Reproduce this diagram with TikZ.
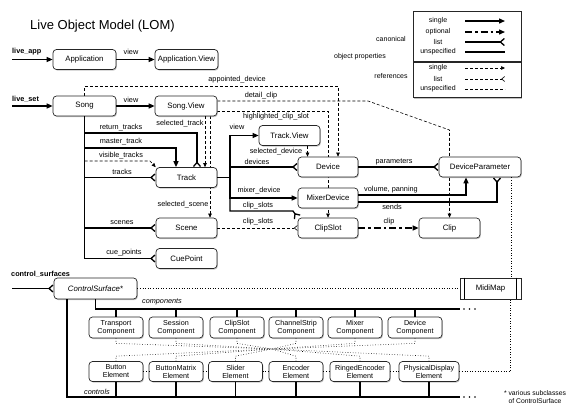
\documentclass[tikz,border=0pt]{standalone}
\usepackage{fontspec}
\setmainfont{Liberation Sans}
\usetikzlibrary{arrows.meta,positioning,calc,shadows,backgrounds}

\begin{document}
\begin{tikzpicture}[
  x=1pt, y=-1pt,
  font=\fontsize{7.3}{8}\selectfont,
  obj/.style={draw=black!85, line width=0.7pt, rounded corners=3.5pt, fill=white,
    minimum width=61pt, minimum height=20pt, inner sep=1pt,
    font=\fontsize{7.8}{8.5}\selectfont,
    drop shadow={shadow xshift=0.9pt, shadow yshift=-1.1pt, opacity=0.45}},
  part/.style={obj, minimum width=54pt, minimum height=21pt, align=center,
    font=\fontsize{7.2}{8}\selectfont},
  mapbox/.style={obj, rounded corners=0pt},
  legbox/.style={draw=black!85, line width=0.8pt, fill=white, minimum width=108pt,
    drop shadow={shadow xshift=0.9pt, shadow yshift=-1.2pt, opacity=0.5}},
  lbl/.style={inner sep=0pt},
  leg/.style={inner sep=0pt, font=\fontsize{7}{8}\selectfont},
  rootlbl/.style={inner sep=0pt, anchor=west, font=\fontsize{7.3}{8}\selectfont\bfseries},
  canon/.style={line width=1.3pt},
  single/.style={canon, -{Triangle[length=6pt,width=5pt]}},
  many/.style={canon, -{Straight Barb[reversed,length=4pt,width=7pt]}},
  optional/.style={single, dash pattern=on 7pt off 3pt on 2.5pt off 3pt},
  refline/.style={line width=0.6pt, dash pattern=on 3pt off 2pt},
  refone/.style={refline, -{Triangle[length=4pt,width=3.5pt]}},
  refmany/.style={refline, -{Straight Barb[reversed,length=3pt,width=5pt]}},
  dots/.style={line width=0.6pt, dotted}
]

\useasboundingbox (0,0) rectangle (580,413);

\node[anchor=west, inner sep=0pt, font=\fontsize{13}{15}\selectfont] (title) at (30,26)
     {Live Object Model (LOM)};

% legend
\node[legbox, minimum height=50pt] (canonbox) at (467,36) {};
\node[legbox, minimum height=35pt] (refbox) at (467,80) {};
\node[leg] (canonical) at (391,39) {canonical};
\node[leg] (objprops) at (360,57) {object properties};
\node[leg] (references) at (391,76) {references};
\node[leg] (lgsingle) at (438,21) {single};
\node[leg] (lgoptional) at (438,32) {optional};
\node[leg] (lglist) at (438,42) {list};
\node[leg] (lgunspec) at (438,52) {unspecified};
\node[leg] (lgrsingle) at (438,68) {single};
\node[leg] (lgrlist) at (438,79) {list};
\node[leg] (lgrunspec) at (438,89) {unspecified};
\draw[single]   (465,21) -- (505,21);
\draw[optional] (465,32) -- (505,32);
\draw[many]     (465,42) -- (505,42);
\draw[canon]    (465,52) -- (505,52);
\draw[refone]   (465,68) -- (505,68);
\draw[refmany]  (465,79) -- (505,79);
\draw[refline]  (465,89) -- (505,89);

% live_app
\node[rootlbl] (liveapp) at (12,52) {live\_app};
\coordinate (appin) at (12,59.5);
\node[obj, minimum width=63pt] (Application) at (84.5,59.5) {Application};
\node[obj, minimum width=63pt] (ApplicationView) at (186.5,59.5) {Application.View};
\node[lbl] (viewapp) at (131,52) {view};
\draw[single] (appin) -- (Application);
\draw[single] (Application) -- (ApplicationView);

% live_set
\node[rootlbl] (liveset) at (12,99) {live\_set};
\coordinate (setin) at (12,106);
\node[obj, minimum width=63pt] (Song) at (84.5,106) {Song};
\node[obj, minimum width=62pt] (SongView) at (186,106) {Song.View};
\node[obj] (Track) at (186.5,177.5) {Track};
\node[obj] (Scene) at (186.5,228) {Scene};
\node[obj] (CuePoint) at (186.5,258.5) {CuePoint};
\node[obj] (TrackView) at (289.5,135.5) {Track.View};
\node[obj, minimum width=60pt] (Device) at (328,167) {Device};
\node[obj, minimum width=60pt] (MixerDevice) at (328,198) {MixerDevice};
\node[obj, minimum width=60pt] (ClipSlot) at (328,228) {ClipSlot};
\node[obj, minimum width=82pt] (DeviceParameter) at (480,167) {DeviceParameter};
\node[obj] (Clip) at (449.5,228) {Clip};

% references running behind the boxes
\begin{scope}[on background layer]
  \coordinate (adtop) at (338,86);
  \draw[refone] (Song.north) |- (adtop) -- (adtop |- Device.north);
  \draw[refone] ([yshift=5pt]SongView.east) -- (368,101) -- (Clip.north |- 0,130) -- (Clip.north);
  \draw[refone] ([yshift=-5pt]SongView.east) -| (ClipSlot.north);
  \draw[refone] ([xshift=24pt]SongView.south) -- ([xshift=24pt]SongView.south |- Scene.north);
\end{scope}
\draw[refone] ([xshift=19pt]SongView.south) -- ([xshift=19pt]SongView.south |- Track.north);
\draw[refone] ([xshift=18pt]TrackView.south) -- ([xshift=18pt]TrackView.south |- Device.north);

\node[lbl] (lappointed) at (237,80) {appointed\_device};
\node[lbl] (ldetail) at (261,96) {detail\_clip};
\node[lbl] (lhighlight) at (276,117) {highlighted\_clip\_slot};
\node[lbl] (lseltrack) at (180,124) {selected\_track};
\node[lbl] (lselscene) at (183,205) {selected\_scene};
\node[lbl] (lseldevice) at (276,152) {selected\_device};

\draw[single] (setin) -- (Song);
\draw[single] (Song) -- (SongView);
\node[lbl] (viewsong) at (131,100) {view};

% song children
\draw[canon] (Song.south) -- (Song.south |- CuePoint);
\draw[many] (Song.south |- 0,133) -| ([xshift=10.5pt]Track.north);
\draw[single] (Song.south |- 0,148) -| ([xshift=-10.5pt]Track.north);
\draw[refone] (Song.south |- 0,161) -- (150,161) -- (Track.north west);
\draw[many] (Song.south |- Track) -- (Track);
\draw[many] (Song.south |- Scene) -- (Scene);
\draw[many] (Song.south |- CuePoint) -- (CuePoint);
\node[lbl] (lreturn) at (121,128) {return\_tracks};
\node[lbl] (lmaster) at (121,142) {master\_track};
\node[lbl] (lvisible) at (121,156) {visible\_tracks};
\node[lbl] (ltracks) at (122,172) {tracks};
\node[lbl] (lscenes) at (122,223) {scenes};
\node[lbl] (lcue) at (124,253) {cue\_points};

% track children
\coordinate (tk) at (230,177.5);
\draw[canon] (Track.east) -- (tk);
\draw[single] (tk) |- (TrackView);
\draw[many] (tk) |- (Device);
\draw[single] (tk) |- (MixerDevice);
\draw[many] (tk) |- (293,211) -- (ClipSlot.north west);
\draw[refmany] (Scene) -- (ClipSlot);
\node[lbl] (lview) at (237,127) {view};
\node[lbl] (ldevices) at (257,162) {devices};
\node[lbl] (lmixer) at (259,191) {mixer\_device};
\node[lbl] (lclipslots) at (258,206) {clip\_slots};
\node[lbl] (lsceneslots) at (258,222) {clip\_slots};

% devices and clips
\draw[many] (Device) -- (DeviceParameter);
\draw[single] ([yshift=3pt]MixerDevice.east) -| ([xshift=-14pt]DeviceParameter.south);
\draw[many] ([yshift=-4pt]MixerDevice.east) -| ([xshift=17pt]DeviceParameter.south);
\draw[optional] (ClipSlot) -- (Clip);
\node[lbl] (lparams) at (394,162) {parameters};
\node[lbl] (lvolume) at (391,190) {volume, panning};
\node[lbl] (lsends) at (392,207) {sends};
\node[lbl] (lclip) at (389,222) {clip};

% control surfaces
\node[rootlbl] (livecs) at (11,274) {control\_surfaces};
\coordinate (csin) at (12,288.5);
\node[obj, minimum width=83pt, minimum height=21pt] (ControlSurface) at (95.5,288.5)
     {\itshape ControlSurface*};
\node[mapbox, minimum height=21pt] (MidiMap) at (490.5,288.5) {MidiMap};
\draw[line width=0.7pt] ([xshift=5pt]MidiMap.north west) -- ([xshift=5pt]MidiMap.south west);
\draw[line width=0.7pt] ([xshift=-5pt]MidiMap.north east) -- ([xshift=-5pt]MidiMap.south east);
\draw[many] (csin) -- (ControlSurface);
\draw[dots] (ControlSurface) -- (MidiMap);
\draw[dots] ([xshift=31pt]DeviceParameter.south) -- ([xshift=31pt]DeviceParameter.south |- MidiMap.north);

\node[part] (Transport) at (116,327.5) {Transport\\Component};
\node[part] (SessionComp) at (176,327.5) {Session\\Component};
\node[part] (ClipSlotComp) at (237,327.5) {ClipSlot\\Component};
\node[part] (ChannelStrip) at (296,327.5) {ChannelStrip\\Component};
\node[part] (MixerComp) at (355,327.5) {Mixer\\Component};
\node[part] (DeviceComp) at (415,327.5) {Device\\Component};

\node[part, minimum height=20pt] (Button) at (116,371.5) {Button\\Element};
\node[part, minimum height=20pt] (ButtonMatrix) at (176,371.5) {ButtonMatrix\\Element};
\node[part, minimum height=20pt] (Slider) at (235.5,371.5) {Slider\\Element};
\node[part, minimum height=20pt] (Encoder) at (296,371.5) {Encoder\\Element};
\node[part, minimum height=20pt, minimum width=60pt] (RingedEncoder) at (360,371.5) {RingedEncoder\\Element};
\node[part, minimum height=20pt, minimum width=60pt] (PhysicalDisplay) at (429,371.5) {PhysicalDisplay\\Element};

% buses
\coordinate (cbus) at (460,309);
\coordinate (kbus) at (460,397);
\draw[canon] (ControlSurface.south) |- (cbus);
\draw[canon] ([xshift=-28.5pt]ControlSurface.south) |- (kbus);
\foreach \n in {Transport,SessionComp,ClipSlotComp,ChannelStrip,MixerComp,DeviceComp}
  \draw[canon] (\n.north |- cbus) -- (\n.north);
\foreach \n in {Button,ButtonMatrix,Slider,Encoder,RingedEncoder,PhysicalDisplay}
  \draw[canon] (\n.south) -- (\n.south |- kbus);
\foreach \x in {464,469.5,475} {
  \fill (\x,309) circle (0.9pt);
  \fill (\x,397) circle (0.9pt);
}
\node[lbl, font=\fontsize{7.3}{8}\selectfont\itshape] (lcomponents) at (162,302) {components};
\node[lbl, font=\fontsize{7.3}{8}\selectfont\itshape] (lcontrols) at (97,392) {controls};

% component / element wiring
\coordinate (hub) at (272,349);
\foreach \n in {Transport,SessionComp,ClipSlotComp,ChannelStrip,MixerComp,DeviceComp}
  \draw[dots] (\n.south) -- ++(0,5) -- (hub);
\foreach \n in {Button,ButtonMatrix,Slider,Encoder,RingedEncoder,PhysicalDisplay}
  \draw[dots] (\n.north) -- ++(0,-5) -- (hub);
\foreach \a/\b in {Button/ButtonMatrix,ButtonMatrix/Slider,Slider/Encoder,Encoder/RingedEncoder,RingedEncoder/PhysicalDisplay}
  \draw[dots] (\a) -- (\b);
\draw[dots] (PhysicalDisplay.east) -| ([xshift=20pt]MidiMap.south);

\node[align=center, inner sep=0pt, font=\fontsize{6.8}{8}\selectfont] (note) at (535,397)
     {* various subclasses\\of ControlSurface};

\end{tikzpicture}
\end{document}
